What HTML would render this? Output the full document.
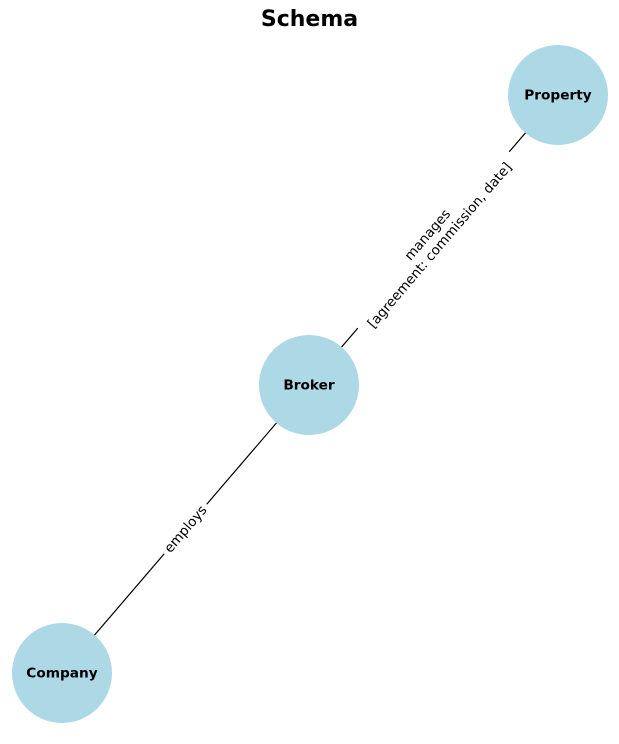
<!DOCTYPE html>
<html><head><meta charset="utf-8"><style>
html,body{margin:0;padding:0;background:#fff;}
svg{display:block;font-family:"Liberation Sans","DejaVu Sans",sans-serif;}
</style></head><body>
<svg id="chart" width="619" height="744" viewBox="0 0 619 744">
<text x="309.5" y="26" text-anchor="middle" font-size="22" font-weight="bold" font-family="DejaVu Sans, sans-serif">Schema</text>
<g id="edges"></g><g id="nodes"></g>
</svg>
<script>
const nodeNames = ["Property","Broker","Company"];
const nodeX = [558, 309, 62];
const nodeY = [95, 385, 673];
const edgeFrom = [1, 2];
const edgeTo = [0, 1];
const edgeLabels = [["manages","[agreement: commission, date]"],["employs"]];
const NS="http://www.w3.org/2000/svg";
const eg=document.getElementById('edges'), ng=document.getElementById('nodes');
edgeFrom.forEach((f,i)=>{
  const t=edgeTo[i];
  const l=document.createElementNS(NS,'line');
  
  
  l.setAttribute('x1',nodeX[f]);l.setAttribute('y1',nodeY[f]);
  l.setAttribute('x2',nodeX[t]);l.setAttribute('y2',nodeY[t]);
  l.setAttribute('stroke','#000');l.setAttribute('stroke-width','1.2');
  eg.appendChild(l);
  const mx=(nodeX[f]+nodeX[t])/2, my=(nodeY[f]+nodeY[t])/2;
  const ang=Math.atan2(nodeY[t]-nodeY[f],nodeX[t]-nodeX[f])*180/Math.PI;
  const g=document.createElementNS(NS,'g');
  g.setAttribute('transform','translate('+mx+','+my+') rotate('+ang+')');
  const lines=edgeLabels[i];
  const lh=16, w=Math.max(...lines.map(s=>s.length))*7.6+12, h=lines.length*lh+4;
  const r=document.createElementNS(NS,'rect');
  r.setAttribute('x',-w/2);r.setAttribute('y',-h/2);r.setAttribute('width',w);r.setAttribute('height',h);
  r.setAttribute('fill','#fff');
  g.appendChild(r);
  lines.forEach((s,k)=>{
    const tx=document.createElementNS(NS,'text');
    
    
    tx.setAttribute('x',0);tx.setAttribute('y',(k-(lines.length-1)/2)*lh+4.5);
    tx.setAttribute('text-anchor','middle');tx.setAttribute('font-size','13.5');
    tx.setAttribute('font-family','DejaVu Sans, sans-serif');
    tx.textContent=s;g.appendChild(tx);
  });
  eg.appendChild(g);
});
nodeNames.forEach((n,i)=>{
  const c=document.createElementNS(NS,'circle');
  
  
  c.setAttribute('cx',nodeX[i]);c.setAttribute('cy',nodeY[i]);c.setAttribute('r',50);
  c.setAttribute('fill','#add8e6');
  ng.appendChild(c);
  const t=document.createElementNS(NS,'text');
  
  
  t.setAttribute('x',nodeX[i]);t.setAttribute('y',nodeY[i]+4.5);
  t.setAttribute('text-anchor','middle');t.setAttribute('font-size','13.7');t.setAttribute('font-weight','bold');
  t.setAttribute('font-family','DejaVu Sans, sans-serif');
  t.textContent=n;ng.appendChild(t);
});
</script>
</body></html>
